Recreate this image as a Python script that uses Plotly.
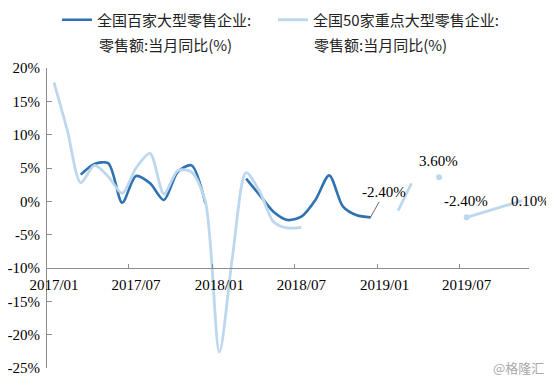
import plotly.graph_objects as go

# ---- data ----
months_dark = ["2017-03", "2017-04", "2017-05", "2017-06", "2017-07", "2017-08", "2017-09",
               "2017-10", "2017-11", "2017-12", "2018-01", "2018-02",
               "2018-03", "2018-04", "2018-05", "2018-06", "2018-07", "2018-08",
               "2018-09", "2018-10", "2018-11", "2018-12"]
values_dark = [4.0, 5.6, 5.7, -0.2, 3.8, 2.7, 0.2, 4.4, 5.4, -0.3, None, None,
               3.4, 0.9, -1.6, -2.8, -2.3, 0.2, 3.9, -0.8, -2.1, -2.4]

months_light = ["2017-01", "2017-02", "2017-03", "2017-04", "2017-05", "2017-06", "2017-07",
                "2017-08", "2017-09", "2017-10", "2017-11", "2017-12",
                "2018-01", "2018-02", "2018-03", "2018-04", "2018-05", "2018-06", "2018-07",
                "2018-08", "2019-02", "2019-03", "2019-04", "2019-05", "2019-06",
                "2019-07", "2019-11"]
values_light = [17.8, 10.6, 2.8, 5.4, 3.7, 1.2, 5.0, 7.2, 1.1, 4.6, 4.4, 0.0,
                -22.6, -8.0, 4.3, 1.4, -3.1, -4.0, -3.9,
                None, -1.4, 2.7, None, 3.6, None, -2.4, 0.1]

marker_months = ["2019-05", "2019-07"]
marker_values = [3.6, -2.4]

label_dark = ("2018-12", -2.4, "-2.40%")
labels_light = [("2019-05", 3.6, "3.60%"), ("2019-07", -2.4, "-2.40%"), ("2019-11", 0.1, "0.10%")]

tick_dates = ["2017-01-01", "2017-07-01", "2018-01-01", "2018-07-01", "2019-01-01", "2019-07-01"]
tick_text = ["2017/01", "2017/07", "2018/01", "2018/07", "2019/01", "2019/07"]
y_ticks = [20, 15, 10, 5, 0, -5, -10, -15, -20, -25]
y_text = ["20%", "15%", "10%", "5%", "0%", "-5%", "-10%", "-15%", "-20%", "-25%"]

name_dark_1 = "全国百家大型零售企业:"
name_light_1 = "全国50家重点大型零售企业:"
name_line_2 = "零售额:当月同比(%)"

DARK = "#2E72B2"
LIGHT = "#BDD7EE"
SERIF = "Liberation Serif, Times New Roman, serif"
CJK = "Noto Sans CJK SC, sans-serif"

fig = go.Figure()
fig.add_trace(go.Scatter(
    x=months_dark, y=values_dark, mode="lines", name=name_dark_1, legend="legend",
    line=dict(color=DARK, width=2.6, shape="spline", smoothing=0.8),
    xperiod="M1", xperiodalignment="middle", connectgaps=False))
fig.add_trace(go.Scatter(
    x=months_light, y=values_light, mode="lines", name=name_light_1, legend="legend2",
    line=dict(color=LIGHT, width=2.8, shape="spline", smoothing=0.8),
    xperiod="M1", xperiodalignment="middle", connectgaps=False))
fig.add_trace(go.Scatter(
    x=marker_months, y=marker_values, mode="markers", showlegend=False,
    marker=dict(color=LIGHT, size=6),
    xperiod="M1", xperiodalignment="middle"))

def mid(m):
    return m + "-16"

fig.add_annotation(x=mid(label_dark[0]), y=label_dark[1], text=label_dark[2],
                   showarrow=True, arrowhead=0, arrowwidth=0.8, arrowcolor="#404040",
                   ax=14, ay=-25, font=dict(family=SERIF, size=15, color="black"))
for m, v, t in labels_light:
    if t == "0.10%":
        fig.add_annotation(x=mid(m), y=v, text=t, showarrow=False, xshift=8, yshift=0,
                           font=dict(family=SERIF, size=15, color="black"))
    else:
        fig.add_annotation(x=mid(m), y=v, text=t, showarrow=False, yshift=16,
                           font=dict(family=SERIF, size=15, color="black"))

# second lines of the two legend entries
for xp in (0.1038, 0.5499):
    fig.add_annotation(xref="paper", yref="paper", x=xp, y=1.0767, xanchor="left", yanchor="middle",
                       text=name_line_2, showarrow=False,
                       font=dict(family=CJK, size=15, color="#222"))

fig.add_annotation(xref="paper", yref="paper", x=1.035, y=0.003, xanchor="right", yanchor="middle",
                   text="@格隆汇", showarrow=False,
                   font=dict(family=CJK, size=13, color="#A8A8A8"))

legend_common = dict(orientation="h", y=1.16, yanchor="middle", xanchor="left",
                     font=dict(family=CJK, size=15, color="#222"), itemwidth=30,
                     bgcolor="rgba(0,0,0,0)")

# the page body adds an 8px offset, so the figure is 8px smaller than the window
fig.update_layout(
    width=546, height=375, autosize=False,
    margin=dict(l=39, r=25, t=60, b=15, autoexpand=False),
    paper_bgcolor="white", plot_bgcolor="white",
    showlegend=True,
    legend=dict(x=0.0207, **legend_common),
    legend2=dict(x=0.4689, **legend_common),
    xaxis=dict(type="date", range=["2017-01-01", "2019-12-01"], anchor="free", position=1/3,
               showline=True, linecolor="#8C8C8C", linewidth=1, automargin=False,
               ticks="inside", ticklen=4, tickcolor="#8C8C8C",
               tickvals=tick_dates, ticktext=tick_text, ticklabelshift=7, ticklabelstandoff=3,
               tickfont=dict(family=SERIF, size=15, color="black"),
               showgrid=False, zeroline=False),
    yaxis=dict(range=[-25, 20], showline=True, linecolor="#8C8C8C", linewidth=1, automargin=False,
               ticks="inside", ticklen=5, tickcolor="#8C8C8C",
               tickvals=y_ticks, ticktext=y_text, ticklabelstandoff=3,
               tickfont=dict(family=SERIF, size=15, color="black"),
               showgrid=False, zeroline=False),
)

fig.write_html("out.html")
